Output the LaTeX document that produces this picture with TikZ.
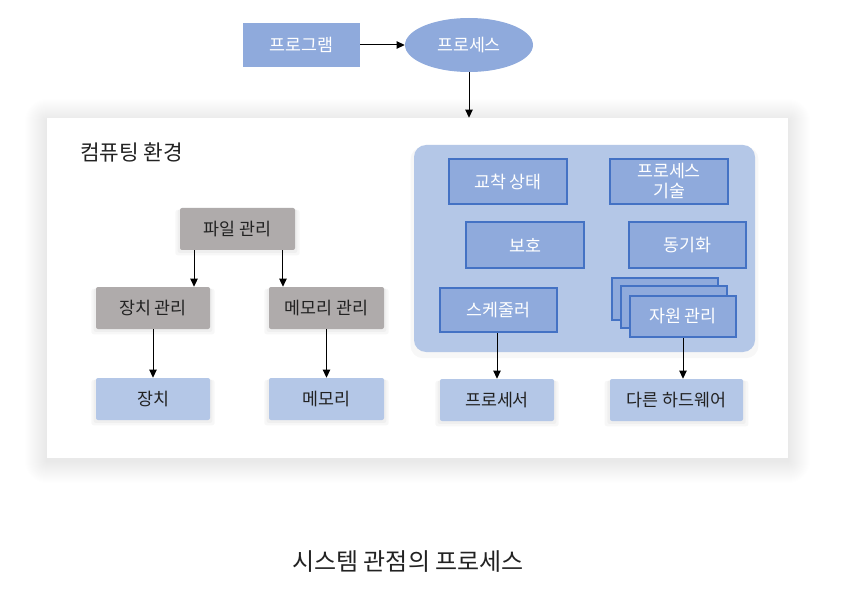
\documentclass[tikz,border=0pt]{standalone}
\usepackage{fontspec}
\setmainfont{Noto Sans CJK KR}
\usetikzlibrary{arrows.meta,shapes.geometric,shadows}
\definecolor{midblue}{HTML}{8FAADC}
\definecolor{lightblue}{HTML}{B4C7E7}
\definecolor{edgeblue}{HTML}{4472C4}
\definecolor{graybox}{HTML}{AFABAB}
\definecolor{txt}{HTML}{222222}
\tikzset{
  arr/.style={-{Triangle[length=6pt,width=5.5pt]}, line width=0.75pt, black},
  base/.style={font=\fontsize{13}{15}\selectfont, inner sep=0pt, align=center},
  soft/.style={general shadow={fill=black,opacity=0.03,shadow yshift=-2.5pt,shadow scale=1.08},
               general shadow={fill=black,opacity=0.03,shadow yshift=-1.5pt,shadow scale=1.04}},
  topbox/.style={base, fill=midblue, text=white, minimum width=87.75pt, minimum height=33pt},
  inbox/.style={base, fill=midblue, draw=edgeblue, line width=1.5pt, text=white, minimum width=88.5pt, minimum height=33.75pt},
  graynode/.style={base, soft, fill=graybox, text=txt, rounded corners=1.5pt, minimum height=31.5pt},
  resnode/.style={base, soft, fill=lightblue, text=txt, rounded corners=1.5pt, minimum height=31.5pt},
}
\begin{document}
\begin{tikzpicture}[x=0.75pt,y=-0.75pt]
\useasboundingbox (0,0) rectangle (843,613);
% panel shadow (soft, layered)
\foreach \i in {1,...,22}{
  \fill[black,opacity=0.005,rounded corners=\i*0.75pt] (47-\i,118-\i+3) rectangle (788+\i,458+\i+3);
}
\node[fill=white, minimum width=555.75pt, minimum height=255pt, inner sep=0pt] (panel) at (417.5,288) {};
\node[anchor=west, inner sep=0pt, font=\fontsize{16}{18}\selectfont, text=txt] (env) at (80,152) {컴퓨팅 환경};

% top
\node[topbox] (prog) at (301.5,45) {프로그램};
\node[base, ellipse, fill=midblue, text=white, minimum width=96pt, minimum height=40.5pt] (proc) at (469,45) {프로세스};
\draw[arr] (prog.east) -- (proc.west);
\draw[arr] (proc.south) -- (proc.south |- panel.north);

% blue panel
\node[fill=lightblue, rounded corners=9pt, minimum width=255.75pt, minimum height=155.25pt, inner sep=0pt,
  general shadow={fill=black,opacity=0.03,shadow yshift=-3pt,shadow scale=1.02}] (kernel) at (584.5,248.5) {};
\node[inbox] (dead) at (508,181.5) {교착 상태};
\node[inbox, text width=80pt] (pdesc) at (669,181.5) {\fontsize{13}{15.5}\selectfont 프로세스\\기술};
\node[inbox, minimum height=34.5pt] (prot) at (525,245) {보호};
\node[inbox, minimum width=87.75pt, minimum height=34.5pt] (sync) at (687.5,245) {동기화};
\node[inbox, minimum width=87.75pt, minimum height=33pt] (sched) at (498.5,310) {스케줄러};
\node[inbox, minimum width=79.5pt, minimum height=31.5pt] (resA) at (665,299) {};
\node[inbox, minimum width=79.5pt, minimum height=31.5pt] (resB) at (674,307) {};
\node[inbox, minimum width=79.5pt, minimum height=30.75pt] (res) at (683,316.5) {자원 관리};

% bottom right resources
\node[resnode, minimum width=85.5pt] (cpu) at (497,400) {프로세서};
\node[resnode, minimum width=99.75pt] (hw) at (676.5,400) {다른 하드웨어};
\draw[arr] (sched.south -| cpu.north) -- (cpu.north);
\draw[arr] (res.south) -- (res.south |- hw.north);

% left tree
\node[graynode, minimum width=86.25pt] (file) at (237.5,229) {파일 관리};
\node[graynode, minimum width=85.5pt] (devm) at (153,308) {장치 관리};
\node[graynode, minimum width=86.25pt] (memm) at (326.5,308) {메모리 관리};
\node[resnode, minimum width=85.5pt] (dev) at (153,399) {장치};
\node[resnode, minimum width=86.25pt] (mem) at (326.5,399) {메모리};
\draw[arr] ([xshift=-32.6pt]file.south) -- ([xshift=-32.6pt]file.south |- devm.north);
\draw[arr] ([xshift=34.1pt]file.south) -- ([xshift=34.1pt]file.south |- memm.north);
\draw[arr] (devm.south) -- (dev.north);
\draw[arr] (memm.south) -- (mem.north);

% caption
\node[font=\fontsize{18}{21}\selectfont, text=txt] (cap) at (408,562) {시스템 관점의 프로세스};
\end{tikzpicture}
\end{document}
